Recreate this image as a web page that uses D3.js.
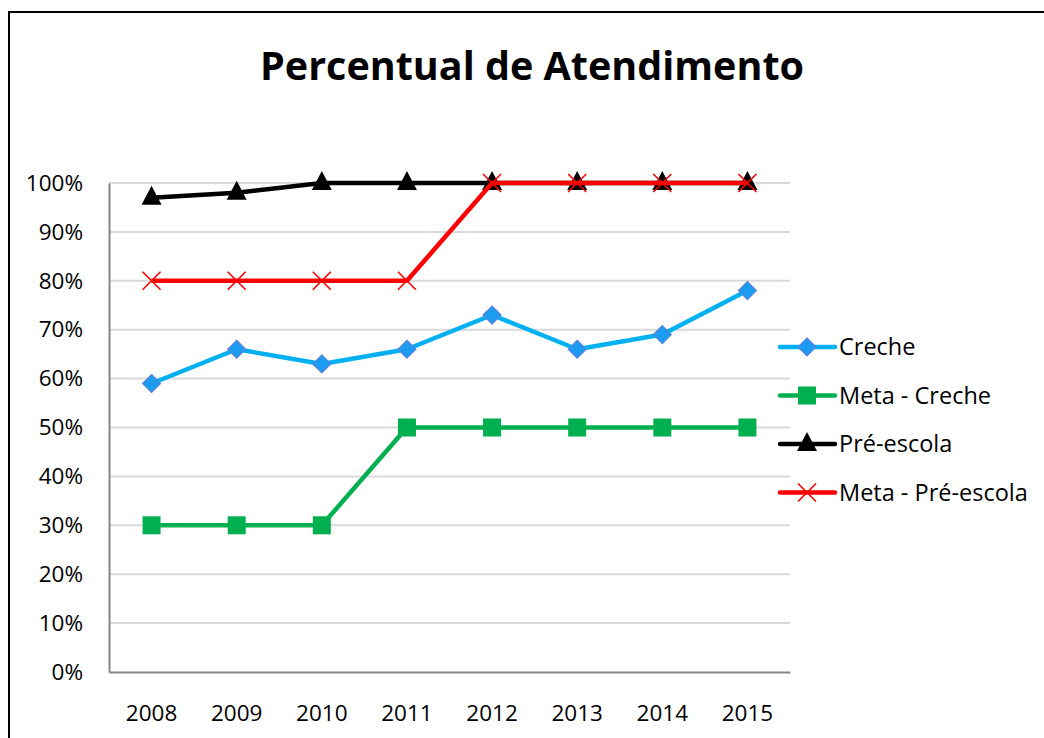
<!DOCTYPE html>
<html>
<head>
<meta charset="utf-8">
<script src="https://cdn.jsdelivr.net/npm/d3@7"></script>
<style>
  body { margin: 0; background: #fff; }
  svg { display: block; font-family: "Open Sans", Lato, sans-serif; }
</style>
</head>
<body>
<svg id="target"></svg>
<script>
const years = ["2008", "2009", "2010", "2011", "2012", "2013", "2014", "2015"];
const creche = [59, 66, 63, 66, 73, 66, 69, 78];
const metaCreche = [30, 30, 30, 50, 50, 50, 50, 50];
const preEscola = [97, 98, 100, 100, 100, 100, 100, 100];
const metaPreEscola = [80, 80, 80, 80, 100, 100, 100, 100];
const yTicks = [0, 10, 20, 30, 40, 50, 60, 70, 80, 90, 100];

const series = [
  {name: "Creche", values: creche, color: "#00b0f0", marker: "diamond"},
  {name: "Meta - Creche", values: metaCreche, color: "#00b050", marker: "square"},
  {name: "Pré-escola", values: preEscola, color: "#000000", marker: "triangle"},
  {name: "Meta - Pré-escola", values: metaPreEscola, color: "#ff0000", marker: "cross"}
];

const width = 1044;
const height = 738;
const margin = {top: 183, right: 254, bottom: 66, left: 109};
const font = '"Open Sans", Lato, sans-serif';

const svg = d3.select('#target')
  .attr('width', width)
  .attr('height', height);

// outer frame (runs off the right and bottom edges)
svg.append("rect")
  .attr("x", 9).attr("y", 12)
  .attr("width", width + 20).attr("height", height + 20)
  .attr("fill", "none")
  .attr("stroke", "#000")
  .attr("stroke-width", 2);

svg.append("text")
  .attr("x", 532).attr("y", 80)
  .attr("text-anchor", "middle")
  .attr("font-size", 39.5)
  .attr("font-weight", "bold")
  .text("Percentual de Atendimento");

const x = d3.scaleBand()
  .domain(years)
  .range([margin.left, width - margin.right]);

const y = d3.scaleLinear()
  .domain([0, 100])
  .range([height - margin.bottom, margin.top]);

// gridlines
svg.append("g")
  .selectAll("line")
  .data(yTicks.filter(d => d > 0))
  .join("line")
    .attr("x1", margin.left).attr("x2", width - margin.right)
    .attr("y1", d => y(d)).attr("y2", d => y(d))
    .attr("stroke", "#d9d9d9")
    .attr("stroke-width", 2);

// y axis
const yAxis = svg.append("g")
  .attr("transform", `translate(${margin.left},0)`)
  .call(d3.axisLeft(y).tickValues(yTicks).tickFormat(d => d + "%").tickSize(0).tickPadding(26))
  .attr("font-family", font)
  .attr("font-size", 22.5);
yAxis.select(".domain").attr("stroke", "#868686").attr("stroke-width", 2);
yAxis.selectAll("text").attr("fill", "#000");

// x axis
const xAxis = svg.append("g")
  .attr("transform", `translate(0,${height - margin.bottom})`)
  .call(d3.axisBottom(x).tickSize(0).tickPadding(33))
  .attr("font-family", font)
  .attr("font-size", 22.5);
xAxis.select(".domain").attr("stroke", "#868686").attr("stroke-width", 2);
xAxis.selectAll("text").attr("fill", "#000");

const cx = (d, i) => x(years[i]) + x.bandwidth() / 2;

function drawMarker(g, type, color) {
  if (type === "diamond") {
    g.append("path").attr("d", "M0,-9L9,0L0,9L-9,0Z")
      .attr("fill", "#1c9cf0").attr("stroke", "#5b84d8").attr("stroke-width", 1.2);
  } else if (type === "square") {
    g.append("rect").attr("x", -9).attr("y", -9).attr("width", 18).attr("height", 18)
      .attr("fill", color);
  } else if (type === "triangle") {
    g.append("path").attr("d", "M0,-12L10,7L-10,7Z").attr("fill", color);
  } else {
    g.append("path").attr("d", "M-9,-9L9,9M-9,9L9,-9")
      .attr("stroke", color).attr("stroke-width", 1.6).attr("fill", "none");
  }
}

const line = d3.line()
  .x((d, i) => cx(d, i))
  .y(d => y(d));

series.forEach(s => {
  svg.append("path")
    .datum(s.values)
    .attr("d", line)
    .attr("fill", "none")
    .attr("stroke", s.color)
    .attr("stroke-width", 4.5)
    .attr("stroke-linejoin", "round");
  svg.append("g")
    .selectAll("g")
    .data(s.values)
    .join("g")
      .attr("transform", (d, i) => `translate(${cx(d, i)},${y(d)})`)
      .each(function() { drawMarker(d3.select(this), s.marker, s.color); });
});

// legend
const legend = svg.append("g")
  .selectAll("g")
  .data(series)
  .join("g")
    .attr("transform", (d, i) => `translate(780,${347 + i * 48.5})`);

legend.append("line")
  .attr("x1", 0).attr("x2", 55)
  .attr("stroke", d => d.color)
  .attr("stroke-width", 4.5)
  .attr("stroke-linecap", "round");

legend.each(function(d) {
  const g = d3.select(this).append("g").attr("transform", "translate(27,0)");
  drawMarker(g, d.marker, d.color);
});

legend.append("text")
  .attr("x", 59).attr("y", 8)
  .attr("font-size", 23.5)
  .text(d => d.name);
</script>
</body>
</html>
